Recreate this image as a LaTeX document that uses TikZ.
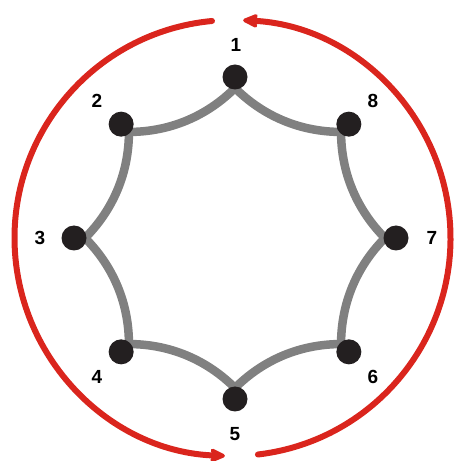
\documentclass[tikz,border=0pt]{standalone}
\usepackage{fontspec}
\setmainfont{Liberation Sans}
\usetikzlibrary{arrows.meta,calc}
\definecolor{ringred}{RGB}{218,37,29}
\definecolor{linkgray}{RGB}{128,128,128}
\definecolor{dotblack}{RGB}{35,31,32}
\tikzset{
  dot/.style={circle,fill=dotblack,minimum size=25pt,inner sep=0pt},
  lbl/.style={font=\fontsize{19}{19}\selectfont\bfseries,inner sep=0pt},
  link/.style={draw=linkgray,line width=8.5pt,looseness=0.9},
  ring/.style={draw=ringred,line width=6pt,line cap=round,-{Stealth[length=19pt,width=17pt,inset=4.5pt,round]}}
}
\begin{document}
\begin{tikzpicture}[x=1pt,y=1pt]
\useasboundingbox (0,0) rectangle (455,461);
\coordinate (c) at (235,223);
\coordinate (rc) at (232.5,223);
% red ring arrows
\draw[ring] ([shift={(95.4:218)}]rc) arc[start angle=95.4,end angle=268,radius=218];
\draw[ring] ([shift={(276.7:218)}]rc) arc[start angle=276.7,end angle=447.2,radius=218];
% dot and star-vertex coordinates
\foreach \i/\a in {1/90,2/135,3/180,4/225,5/270,6/315,7/0,8/45}{
  \coordinate (p\i) at ($(c)+(\a:161)$);
  \coordinate (g\i) at ($(c)+(\a:150)$);
}
% gray links
\draw[link] (g1) to[out=-45,in=180] (g8);
\draw[link] (g8) to[out=-90,in=135] (g7);
\draw[link] (g7) to[out=-135,in=90] (g6);
\draw[link] (g6) to[out=180,in=45] (g5);
\draw[link] (g5) to[out=135,in=0] (g4);
\draw[link] (g4) to[out=90,in=-45] (g3);
\draw[link] (g3) to[out=45,in=-90] (g2);
\draw[link] (g2) to[out=0,in=225] (g1);
% dots
\foreach \i in {1,...,8} \node[dot] (d\i) at (p\i) {};
% labels
\node[lbl] (l1) at (236,416) {1};
\node[lbl] (l2) at (97,360) {2};
\node[lbl] (l3) at (40,223) {3};
\node[lbl] (l4) at (97,84) {4};
\node[lbl] (l5) at (235,27) {5};
\node[lbl] (l6) at (373,84) {6};
\node[lbl] (l7) at (432,223) {7};
\node[lbl] (l8) at (373,360) {8};
\end{tikzpicture}
\end{document}
